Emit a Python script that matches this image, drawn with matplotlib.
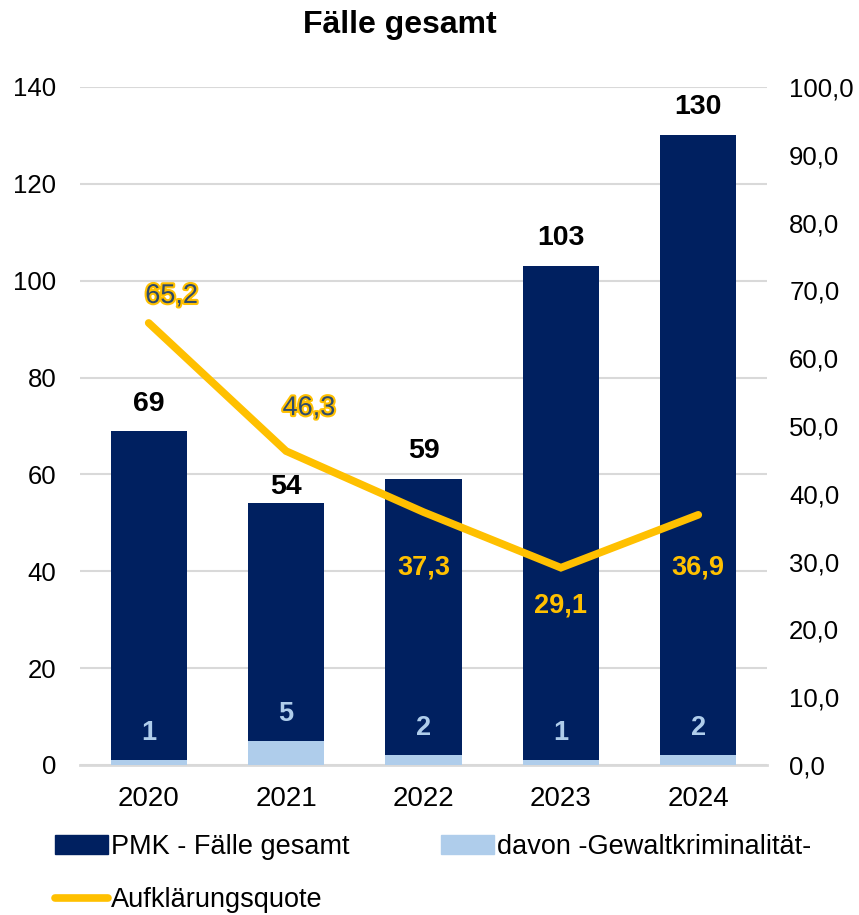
import matplotlib
matplotlib.use("Agg")
import matplotlib.pyplot as plt
import matplotlib.patheffects as pe
from matplotlib.lines import Line2D
from matplotlib.patches import Patch
import numpy as np

plt.rcParams['font.family'] = ['Liberation Sans', 'DejaVu Sans']

years = ["2020", "2021", "2022", "2023", "2024"]
faelle_gesamt = [69, 54, 59, 103, 130]
gewalt = [1, 5, 2, 1, 2]
quote = [65.2, 46.3, 37.3, 29.1, 36.9]
quote_labels = ["65,2", "46,3", "37,3", "29,1", "36,9"]

DARK = "#002060"
LIGHT = "#AFCDEB"
YELLOW = "#FFC000"
GRID = "#D9D9D9"

fig = plt.figure(figsize=(8.59, 9.15), dpi=100)
ax = fig.add_axes([80/859, 1-765/915, (767-80)/859, (765-87)/915])
ax2 = ax.twinx()

x = np.arange(len(years))
w = 0.555
ax.bar(x, faelle_gesamt, width=w, color=DARK, zorder=2)
ax.bar(x, gewalt, width=w, color=LIGHT, zorder=3)

ax.set_xlim(-0.5, len(years)-0.5)
ax.set_ylim(0, 140)
ax.set_yticks(range(0, 141, 20))
ax.set_xticks(x)
ax.set_xticklabels(years)
ax.grid(axis='y', color=GRID, linewidth=1.5, zorder=0)
ax.set_axisbelow(True)
for s in ['top', 'left', 'right']:
    ax.spines[s].set_visible(False)
ax.spines['bottom'].set_color(GRID)
ax.spines['bottom'].set_linewidth(2)
ax.spines['bottom'].set_zorder(1)
ax.tick_params(axis='y', length=0, pad=17, labelsize=18.5)
ax.tick_params(axis='x', length=0, pad=15, labelsize=20)

ax2.plot(x, quote, color=YELLOW, linewidth=5.5, solid_capstyle='round', solid_joinstyle='miter', zorder=5)
ax2.set_ylim(0, 100)
ax2.set_yticks(range(0, 101, 10))
ax2.set_yticklabels([f"{v},0" for v in range(0, 101, 10)])
for s in ['top', 'left', 'right', 'bottom']:
    ax2.spines[s].set_visible(False)
ax2.tick_params(axis='y', length=0, pad=16, labelsize=18.5)

# total labels
tot_off = [27, 16, 28, 28, 28]
for i, v in enumerate(faelle_gesamt):
    ax.annotate(str(v), (x[i], v), xytext=(0, tot_off[i]), textcoords='offset pixels',
                ha='center', va='center', fontsize=20.5, fontweight='bold', color='black', zorder=6)
# gewalt labels
for i, v in enumerate(gewalt):
    ax.annotate(str(v), (x[i], v), xytext=(0, 27), textcoords='offset pixels',
                ha='center', va='center', fontsize=19.5, fontweight='bold', color=LIGHT, zorder=6)

# quote labels
q_off = [(23, 27), (23, 43), (0, -55), (0, -38), (0, -53)]
for i, v in enumerate(quote):
    dx, dy = q_off[i]
    if dy > 0:
        t = ax2.annotate(quote_labels[i], (x[i], v), xytext=(dx, dy), textcoords='offset pixels',
                         ha='center', va='center', fontsize=19.5, color="#2E4A6B", zorder=7)
        t.set_path_effects([pe.withStroke(linewidth=3, foreground=YELLOW)])
    else:
        ax2.annotate(quote_labels[i], (x[i], v), xytext=(dx, dy), textcoords='offset pixels',
                     ha='center', va='center', fontsize=19.5, fontweight='bold', color=YELLOW, zorder=7)

fig.text(400/859, 1-25/915, "Fälle gesamt", ha='center', va='center', fontsize=23, fontweight='bold')

handles = [Patch(color=DARK), Line2D([0], [0], color=YELLOW, linewidth=5.5, solid_capstyle='round'),
           Patch(color=LIGHT)]
labels = ["PMK - Fälle gesamt", "Aufklärungsquote", "davon -Gewaltkriminalität-"]
leg = fig.legend(handles, labels, ncol=2, loc='upper left', bbox_to_anchor=(55/859, 1-834/915),
                 frameon=False, fontsize=19.5, handlelength=1.95, handletextpad=0.1,
                 columnspacing=3.4, labelspacing=1.0, borderaxespad=0, borderpad=0)

fig.savefig("out.png", dpi=100)
